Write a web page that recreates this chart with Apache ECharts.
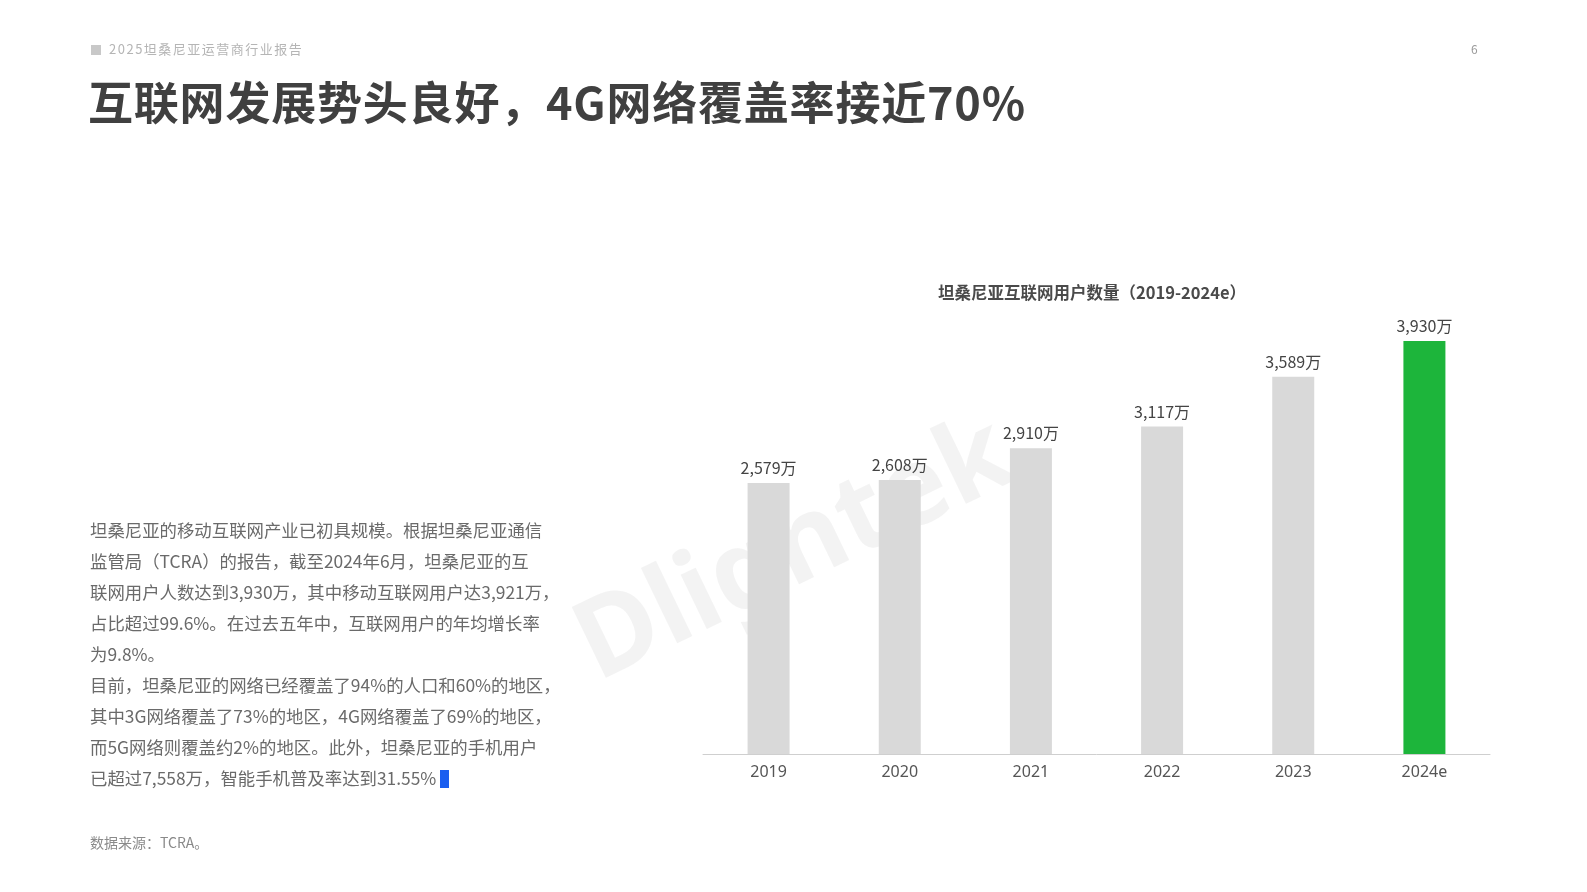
<!DOCTYPE html>
<html><head><meta charset="utf-8">
<script src="https://cdn.jsdelivr.net/npm/echarts@6/dist/echarts.min.js"></script>
<style>
body{margin:0;width:1587px;height:892px;background:#fff;font-family:"Noto Sans CJK SC","Noto Sans",sans-serif;position:relative;overflow:hidden}
.abs{position:absolute}
#chart{position:absolute;left:0;top:0;width:1587px;height:892px}
</style></head><body>
<div id="chart"></div>
<div class="abs" style="left:91px;top:39px;font-size:13px;color:#b5b5b5;letter-spacing:1.5px"><span style="display:inline-block;width:10px;height:10px;background:#c8c8c8;margin-right:8px;vertical-align:-1px"></span>2025坦桑尼亚运营商行业报告</div>
<div class="abs" style="left:1471px;top:40px;font-size:12px;color:#999">6</div>
<div class="abs" style="left:88px;top:68px;font-size:45px;font-weight:bold;color:#404040;letter-spacing:0.8px">互联网发展势头良好，4G网络覆盖率接近70%</div>
<div class="abs" style="left:90px;top:514px;white-space:nowrap;font-size:17.4px;line-height:31px;color:#6a6a6a">坦桑尼亚的移动互联网产业已初具规模。根据坦桑尼亚通信<br>监管局（TCRA）的报告，截至2024年6月，坦桑尼亚的互<br>联网用户人数达到3,930万，其中移动互联网用户达3,921万，<br>占比超过99.6%。在过去五年中，互联网用户的年均增长率<br>为9.8%。<br>目前，坦桑尼亚的网络已经覆盖了94%的人口和60%的地区，<br>其中3G网络覆盖了73%的地区，4G网络覆盖了69%的地区，<br>而5G网络则覆盖约2%的地区。此外，坦桑尼亚的手机用户<br>已超过7,558万，智能手机普及率达到31.55%<span style="display:inline-block;width:9px;height:18px;background:#1a5ef0;margin-left:4px;vertical-align:-3px"></span></div>
<div class="abs" style="left:90px;top:832px;font-size:14px;color:#8a8a8a">数据来源：TCRA。</div>
<script>
const categories=['2019','2020','2021','2022','2023','2024e'];
const values=[2579,2608,2910,3117,3589,3930];
const labels=['2,579万','2,608万','2,910万','3,117万','3,589万','3,930万'];
const chart=echarts.init(document.getElementById('chart'));
chart.setOption({
  animation:false,
  title:{text:'坦桑尼亚互联网用户数量（2019-2024e）',left:1087,top:279,textAlign:'center',
    textStyle:{fontSize:16.5,fontWeight:'bold',color:'#4a4a4a',fontFamily:'Noto Sans CJK SC'}},
  graphic:[{type:'text',left:560,top:400,rotation:0.45,z:-10,
    style:{text:'Dlightek',fontSize:110,fontWeight:'bold',fill:'rgba(235,235,235,0.6)',fontFamily:'Noto Sans'}}],
  grid:{left:703,right:97,top:341,bottom:138},
  xAxis:{type:'category',data:categories,axisTick:{show:false},
    axisLine:{lineStyle:{color:'#cfcfcf'}},
    axisLabel:{fontSize:16,color:'#555',margin:10,fontFamily:'Noto Sans'}},
  yAxis:{type:'value',min:0,max:3930,show:false,splitLine:{show:false}},
  series:[{type:'bar',barWidth:42,
    data:values.map((v,i)=>({value:v,itemStyle:{color:i===5?'#1db53b':'#d9d9d9'}})),
    label:{show:true,position:'top',distance:7,fontSize:16,color:'#444',fontFamily:'Noto Sans CJK SC',
      formatter:p=>labels[p.dataIndex]}}]
});
</script></body></html>
